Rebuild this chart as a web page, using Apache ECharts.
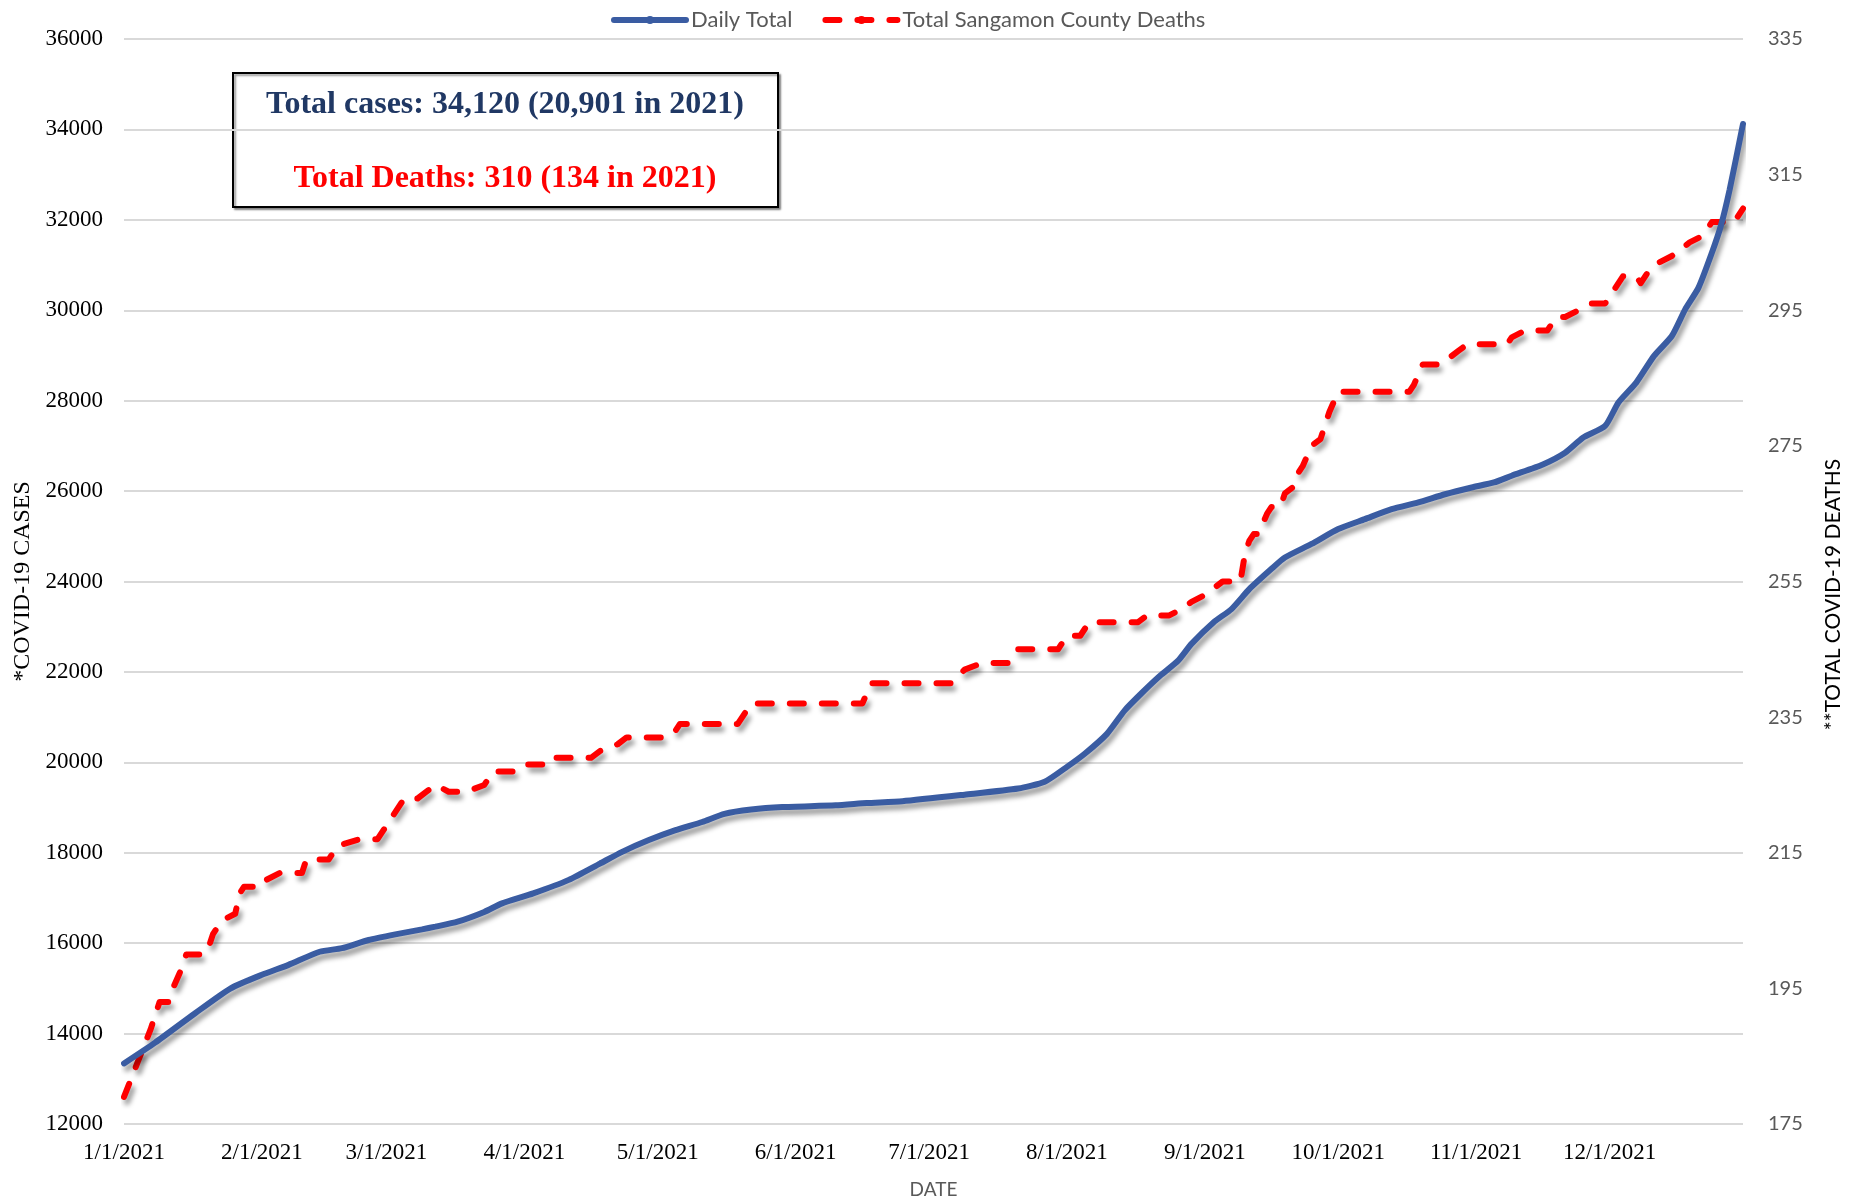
<!DOCTYPE html>
<html>
<head>
<meta charset="utf-8">
<title>Sangamon County COVID-19 2021</title>
<script src="https://cdn.jsdelivr.net/npm/echarts@6/dist/echarts.min.js"></script>
<style>
  html, body { margin: 0; padding: 0; background: #fff; }
  #chart { width: 1864px; height: 1204px; }
</style>
</head>
<body>
<div id="chart"></div>
<script>
// day index (0 = 1/1/2021) and cumulative cases
const caseDays = [0, 7, 16, 24, 31, 37, 44, 49, 55, 61, 67, 70, 75, 81, 85, 92, 100, 107, 112, 118,
  124, 130, 135, 141, 148, 160, 167, 175, 189, 201, 207, 212, 216, 221, 225, 229, 233, 237, 240, 245,
  249, 253, 258, 261, 267, 273, 279, 285, 291, 297, 303, 308, 312, 319, 324, 328, 333, 336, 340, 344,
  348, 351, 354, 357, 359, 361, 364]
const caseValues = [13340, 13800, 14450, 15000, 15300, 15520, 15810, 15890, 16070, 16195, 16305, 16365, 16475, 16690, 16880, 17100, 17400, 17760, 18020, 18280,
  18500, 18680, 18860, 18955, 19010, 19050, 19100, 19140, 19285, 19420, 19570, 19900, 20190, 20630, 21150, 21550, 21920, 22250, 22620, 23100,
  23390, 23830, 24280, 24530, 24830, 25160, 25380, 25600, 25750, 25930, 26080, 26190, 26340, 26590, 26850, 27180, 27440, 27960, 28400, 28990,
  29430, 30020, 30500, 31270, 31860, 32670, 34120]

// day index and cumulative deaths (right axis)
const deathDays = [0, 3, 6, 8, 10, 11, 13, 14, 18, 19, 20, 22, 25, 26, 27, 31, 32, 35, 40, 41,
  46, 48, 53, 57, 59, 60, 63, 66, 68, 70, 73, 77, 81, 83, 88, 90, 96, 97, 105, 107,
  111, 113, 122, 124, 125, 138, 141, 166, 168, 186, 189, 193, 199, 201, 210, 212, 215, 217, 228, 230,
  235, 238, 240, 243, 245, 247, 251, 252, 253, 254, 255, 257, 258, 260, 261, 263, 264, 265, 267, 269,
  271, 273, 289, 290, 292, 296, 298, 300, 302, 311, 312, 315, 320, 322, 324, 327, 330, 333, 335, 337,
  340, 341, 343, 345, 348, 350, 352, 355, 357, 362, 364]
const deathValues = [179, 184, 189, 193, 193, 195, 198, 200, 200, 201, 203, 205, 206, 209, 210, 210, 211, 212, 212, 214,
  214, 216, 217, 217, 219, 220, 223, 223, 224, 225, 224, 224, 225, 227, 227, 228, 228, 229, 229, 230,
  231, 232, 232, 233, 234, 234, 237, 237, 240, 240, 242, 243, 243, 245, 245, 247, 247, 249, 249, 250,
  250, 251, 252, 253, 254, 255, 255, 259, 261, 262, 262, 265, 266, 266, 268, 269, 271, 272, 275, 276,
  280, 283, 283, 284, 287, 287, 288, 289, 290, 290, 291, 292, 292, 294, 294, 295, 296, 296, 298, 300,
  300, 299, 301, 302, 303, 304, 305, 306, 308, 308, 310]

const leftTicks = { min: 12000, max: 36000, step: 2000 }
const rightTicks = { min: 175, max: 335, step: 20 }

// one category per day of 2021, labelled M/D/YYYY
const dates = []
for (let i = 0; i < 365; i++) {
  const d = new Date(Date.UTC(2021, 0, 1 + i))
  dates.push((d.getUTCMonth() + 1) + '/' + d.getUTCDate() + '/' + d.getUTCFullYear())
}

const casePoints = caseDays.map((d, i) => [d, caseValues[i]])
const deathPoints = deathDays.map((d, i) => [d, deathValues[i]])

const chart = echarts.init(document.getElementById('chart'))

const shadow = {
  shadowColor: 'rgba(0,0,0,0.4)',
  shadowBlur: 5,
  shadowOffsetX: 3,
  shadowOffsetY: 5
}

const option = {
  animation: false,
  backgroundColor: '#fff',
  legend: {
    top: 4,
    left: 606,
    itemWidth: 72,
    itemHeight: 10,
    itemGap: 30,
    textStyle: { fontFamily: 'Lato', fontSize: 22, color: '#595959' },
    lineStyle: { width: 6 },
    data: ['Daily Total', 'Total Sangamon County Deaths']
  },
  grid: { left: 124, right: 121, top: 39, bottom: 78 },
  xAxis: {
    type: 'category',
    data: dates,
    boundaryGap: false,
    name: 'DATE',
    nameLocation: 'middle',
    nameGap: 56,
    nameTextStyle: { fontFamily: 'Lato', fontSize: 19, color: '#595959' },
    axisLine: { show: false },
    axisTick: { show: false },
    axisLabel: {
      interval: (idx, val) => val.split('/')[1] === '1',
      margin: 17,
      fontFamily: 'Liberation Serif',
      fontSize: 23,
      color: '#000'
    },
    splitLine: { show: false }
  },
  yAxis: [
    {
      type: 'value',
      min: leftTicks.min,
      max: leftTicks.max,
      interval: leftTicks.step,
      name: '*COVID-19 CASES',
      nameLocation: 'middle',
      nameGap: 88,
      nameTextStyle: { fontFamily: 'Liberation Serif', fontSize: 24, color: '#000' },
      axisLine: { show: false },
      axisTick: { show: false },
      axisLabel: {
        margin: 21,
        fontFamily: 'Liberation Serif',
        fontSize: 23,
        color: '#000',
        formatter: v => String(v)
      },
      splitLine: { lineStyle: { color: '#d9d9d9', width: 2 } }
    },
    {
      type: 'value',
      position: 'right',
      min: rightTicks.min,
      max: rightTicks.max,
      interval: rightTicks.step,
      name: '**TOTAL COVID-19 DEATHS',
      nameLocation: 'middle',
      nameGap: 80,
      nameTextStyle: { fontFamily: 'Lato', fontSize: 21, color: '#000', padding: [0, 26, 0, 0] },
      axisLine: { show: false },
      axisTick: { show: false },
      axisLabel: { margin: 25, fontFamily: 'Lato', fontSize: 20, color: '#595959' },
      splitLine: { show: false }
    }
  ],
  series: [
    {
      name: 'Daily Total',
      type: 'line',
      yAxisIndex: 0,
      data: casePoints,
      symbol: 'none',
      smooth: 0.2,
      color: '#3a5ca2',
      lineStyle: Object.assign({ color: '#3a5ca2', width: 6, cap: 'round' }, shadow),
      z: 3
    },
    {
      name: 'Total Sangamon County Deaths',
      type: 'line',
      yAxisIndex: 1,
      data: deathPoints,
      symbol: 'none',
      color: '#ff0000',
      lineStyle: Object.assign({ color: '#ff0000', width: 6, type: [14, 18], cap: 'round', join: 'round' }, shadow),
      z: 2
    }
  ],
  graphic: [
    {
      type: 'group',
      left: 232,
      top: 72,
      children: [
        {
          type: 'rect',
          shape: { x: 0, y: 0, width: 545, height: 134 },
          style: {
            fill: '#fff',
            stroke: '#000',
            lineWidth: 2,
            shadowColor: 'rgba(0,0,0,0.4)',
            shadowBlur: 2,
            shadowOffsetX: 2,
            shadowOffsetY: 2
          }
        },
        {
          type: 'text',
          x: 272,
          y: 32,
          style: {
            text: 'Total cases: 34,120 (20,901 in 2021)',
            fill: '#203864',
            font: 'bold 32px "Liberation Serif"',
            align: 'center',
            verticalAlign: 'middle'
          }
        },
        {
          type: 'text',
          x: 272,
          y: 106,
          style: {
            text: 'Total Deaths: 310 (134 in 2021)',
            fill: '#ff0000',
            font: 'bold 32px "Liberation Serif"',
            align: 'center',
            verticalAlign: 'middle'
          }
        }
      ]
    }
  ]
}

chart.setOption(option)
</script>
</body>
</html>
